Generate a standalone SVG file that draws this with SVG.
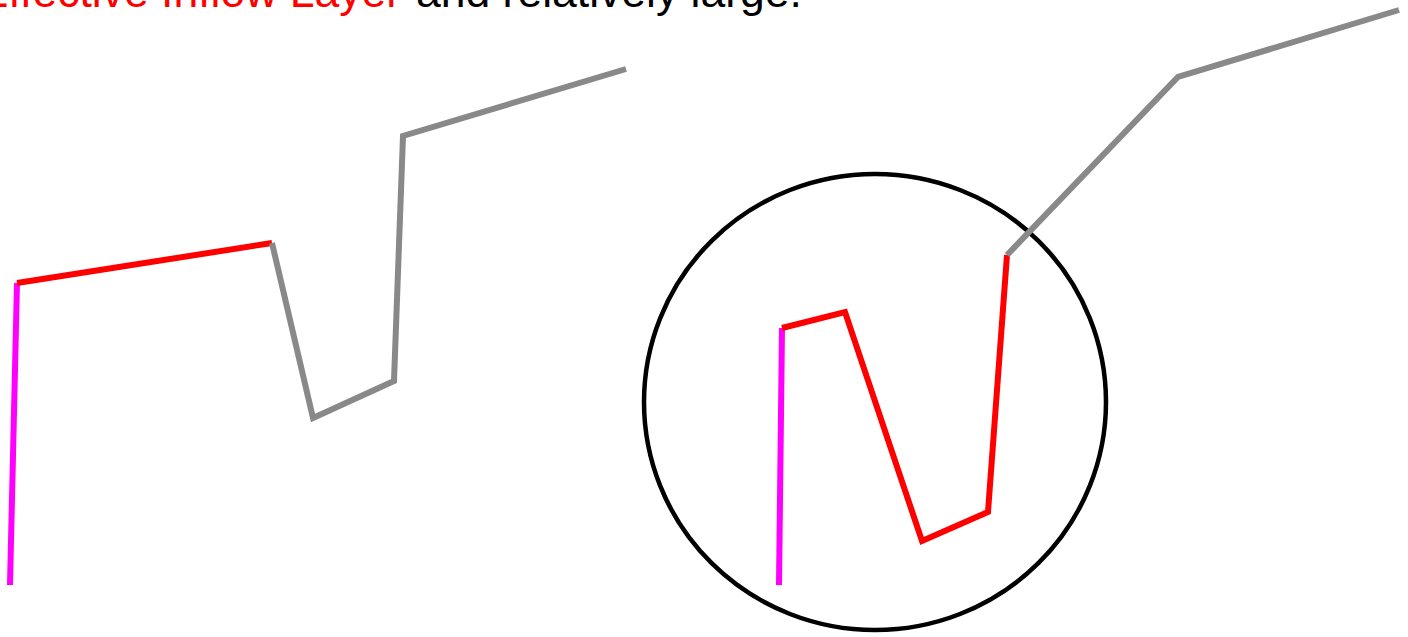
<svg xmlns="http://www.w3.org/2000/svg" width="1408" height="637" viewBox="0 0 1408 637">
  <style>
    .txt { font-family: "Liberation Sans", Arial, sans-serif; font-size: 44.5px; }
    .seg { fill: none; stroke-width: 6; stroke-linecap: butt; stroke-linejoin: miter; }
    .mag { stroke: #FF00FF; }
    .red { stroke: #FF0000; }
    .gray { stroke: #898989; }
  </style>
  <rect width="1408" height="637" fill="#FFFFFF"/>
  <g id="caption">
    <text class="txt" x="401" y="7" text-anchor="end" fill="#FF0000">Effective Inflow Layer</text>
    <text class="txt" x="416" y="7" fill="#000000">and relatively large.</text>
  </g>
  <g id="left-profile">
    <polyline class="seg mag" points="10,585 17,283"/>
    <polyline class="seg red" points="17,283 272,243"/>
    <polyline class="seg gray" points="272,243 313,418 394,381 403,136 626,69"/>
  </g>
  <g id="right-profile">
    <ellipse cx="875" cy="402" rx="231" ry="228" fill="none" stroke="#000000" stroke-width="4.5"/>
    <polyline class="seg mag" points="779,585 782,328"/>
    <polyline class="seg red" points="782,328 845,312 922,541 988,512 1007,255"/>
    <polyline class="seg gray" points="1007,255 1178,77 1399,10"/>
  </g>
</svg>
